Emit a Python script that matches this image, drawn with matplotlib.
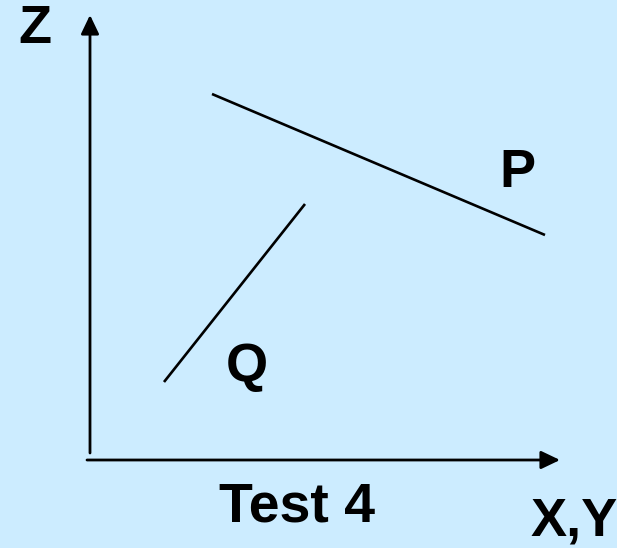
import matplotlib
matplotlib.use("Agg")
import matplotlib.pyplot as plt

# Diagram data (pixel-space coordinates of the reference diagram)
line_names = ["P", "Q"]
p_x = [212, 545]
p_y = [94, 235]
q_x = [164, 305]
q_y = [382, 204]

z_axis_x = [90, 90]
z_axis_y = [453, 15]
xy_axis_x = [87, 560]
xy_axis_y = [460, 460]

labels = {"Z": (35, 29), "P": (517, 173), "Q": (247, 367)}
title_text = "Test 4"
xy_text = "X,Y"

bg = "#CCECFF"
W, H = 617, 548
fig = plt.figure(figsize=(W / 100, H / 100), dpi=100, facecolor=bg)
ax = fig.add_axes([0, 0, 1, 1])
ax.set_facecolor(bg)
ax.set_xlim(0, W)
ax.set_ylim(H, 0)
ax.axis("off")

arrow = dict(arrowstyle="-|>,head_length=1.15,head_width=0.55", color="black",
             lw=2.0, shrinkA=0, shrinkB=0, mutation_scale=10)
ax.annotate("", xy=(z_axis_x[1], z_axis_y[1]), xytext=(z_axis_x[0], z_axis_y[0]),
            arrowprops=arrow)
ax.annotate("", xy=(xy_axis_x[1], xy_axis_y[1]), xytext=(xy_axis_x[0], xy_axis_y[0]),
            arrowprops=arrow)

ax.plot(p_x, p_y, color="black", lw=1.9, solid_capstyle="butt")
ax.plot(q_x, q_y, color="black", lw=1.9, solid_capstyle="butt")

font = dict(family="Liberation Sans", weight="bold", color="black")
for name, (x, y) in labels.items():
    ax.text(x, y, name, fontsize=39, ha="center", va="center", **font)

ax.text(297, 508, title_text, fontsize=40, ha="center", va="center", **font)
ax.text(531, 497, xy_text, fontsize=39, ha="left", va="top", **font)

fig.savefig("out.png", dpi=100, facecolor=bg)
